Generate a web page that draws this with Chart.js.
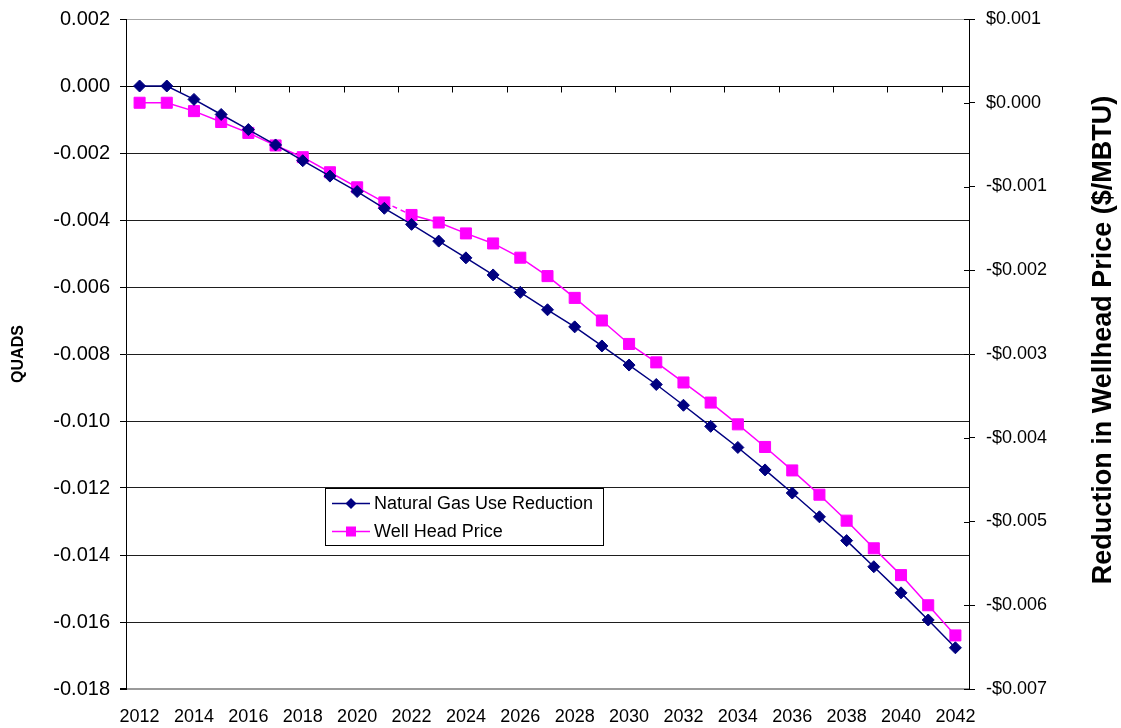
<!DOCTYPE html>
<html>
<head>
<meta charset="utf-8">
<title>Natural Gas Use Reduction and Wellhead Price</title>
<script src="https://cdn.jsdelivr.net/npm/chart.js@4.4.1/dist/chart.umd.min.js"></script>
<style>
  html, body { margin: 0; padding: 0; background: #ffffff; }
  canvas { display: block; }
</style>
</head>
<body>
<canvas id="chart" width="1121" height="728"></canvas>
<script>
// Projection years
const years = [
  '2012','2013','2014','2015','2016','2017','2018','2019','2020','2021',
  '2022','2023','2024','2025','2026','2027','2028','2029','2030','2031',
  '2032','2033','2034','2035','2036','2037','2038','2039','2040','2041','2042'
];

// Natural gas use reduction (quads, left axis)
const gasUseReduction = [
  0.0000, 0.0000, -0.0004, -0.00085, -0.0013, -0.00176, -0.00223, -0.00269, -0.00315, -0.00365,
  -0.00413, -0.00463, -0.00513, -0.00564, -0.00616, -0.00668, -0.00719, -0.00776, -0.00833, -0.00891,
  -0.00953, -0.01016, -0.01079, -0.01146, -0.01215, -0.01286, -0.01357, -0.01435, -0.01513, -0.01594, -0.01677
];

// Reduction in wellhead price ($/MBTU, right axis)
const wellheadPrice = [
  0.0000, 0.0000, -0.0001, -0.00023, -0.00036, -0.00051, -0.00065, -0.00083, -0.00101, -0.00119,
  -0.00134, -0.00143, -0.00156, -0.00168, -0.00185, -0.00207, -0.00233, -0.0026, -0.00288, -0.0031,
  -0.00334, -0.00358, -0.00384, -0.00411, -0.00439, -0.00468, -0.00499, -0.00532, -0.00564, -0.006, -0.00636
];

// Axis ranges: [min, max, step]
const quadsRange = [-0.018, 0.002, 0.002];
const priceRange = [-0.007, 0.001, 0.001];

const seriesNames = ['Natural Gas Use Reduction', 'Well Head Price'];
const leftTitle = 'QUADS';
const rightTitle = 'Reduction in Wellhead Price ($/MBTU)';

const NAVY = '#000080';
const MAGENTA = '#FF00FF';
const FONT = '"Liberation Sans", Arial, Helvetica, sans-serif';

const near = (a, b) => Math.abs(a - b) < 1e-9;

function fmtQuads(v) {
  const s = Math.abs(v) < 1e-12 ? 0 : v;
  return s.toFixed(3);
}
function fmtPrice(v) {
  if (Math.abs(v) < 1e-12) return '$0.000';
  return (v < 0 ? '-$' : '$') + Math.abs(v).toFixed(3);
}

function drawMarker(ctx, style, x, y, r, color) {
  ctx.fillStyle = color;
  ctx.beginPath();
  if (style === 'rectRot') {
    ctx.moveTo(x, y - r); ctx.lineTo(x + r, y); ctx.lineTo(x, y + r); ctx.lineTo(x - r, y);
  } else {
    ctx.rect(x - r, y - r, 2 * r, 2 * r);
  }
  ctx.closePath();
  ctx.fill();
}

// Value axes keep a fixed width and no extra label overhang
function fixAxis(width) {
  return (s) => {
    s.width = width;
    s.paddingTop = 0;
    s.paddingBottom = 0;
  };
}

// Zero-line category axis, inner right-axis ticks, legend box and right title
const decor = {
  id: 'decor',
  beforeDatasetsDraw(chart) {
    const { ctx, chartArea, scales: { x, y, y2 } } = chart;
    const y0 = Math.round(y.getPixelForValue(0)) + 0.5;
    const step = x.getPixelForValue(1) - x.getPixelForValue(0);
    ctx.save();
    ctx.strokeStyle = '#000';
    ctx.lineWidth = 1;
    ctx.beginPath();
    ctx.moveTo(chartArea.left, y0);
    ctx.lineTo(chartArea.right, y0);
    for (let i = 0; i <= years.length; i += 2) {
      const px = Math.round(x.getPixelForValue(0) - step / 2 + i * step) + 0.5;
      ctx.moveTo(px, y0);
      ctx.lineTo(px, y0 + 6);
    }
    for (const t of y2.ticks) {
      const py = Math.round(y2.getPixelForValue(t.value)) + 0.5;
      ctx.moveTo(chartArea.right - 5, py);
      ctx.lineTo(chartArea.right, py);
    }
    ctx.stroke();
    ctx.restore();
  },
  afterDraw(chart) {
    const { ctx } = chart;
    ctx.save();
    // legend
    const bx = 325.5, by = 488.5, bw = 278, bh = 57;
    ctx.fillStyle = '#fff';
    ctx.fillRect(bx, by, bw, bh);
    ctx.strokeStyle = '#000';
    ctx.lineWidth = 1;
    ctx.strokeRect(bx, by, bw, bh);
    ctx.font = '18px ' + FONT;
    ctx.textBaseline = 'middle';
    ctx.textAlign = 'left';
    const rows = [503, 531];
    chart.data.datasets.forEach((ds, i) => {
      const ry = rows[i] + 0.5;
      ctx.strokeStyle = ds.borderColor;
      ctx.lineWidth = 1.5;
      ctx.beginPath();
      ctx.moveTo(332, ry);
      ctx.lineTo(370, ry);
      ctx.stroke();
      drawMarker(ctx, ds.pointStyle, 351, ry, ds.pointStyle === 'rectRot' ? 5.5 : 5, ds.borderColor);
      ctx.fillStyle = '#000';
      ctx.fillText(ds.label, 374, rows[i] + 1);
    });
    // right axis title
    ctx.translate(1104, 340);
    ctx.rotate(-Math.PI / 2);
    ctx.font = 'bold 27px ' + FONT;
    ctx.textAlign = 'center';
    ctx.textBaseline = 'middle';
    ctx.fillStyle = '#000';
    ctx.fillText(rightTitle, 0, 0);
    ctx.restore();
  }
};

new Chart(document.getElementById('chart'), {
  type: 'line',
  data: {
    labels: years,
    datasets: [
      {
        label: seriesNames[0],
        data: gasUseReduction,
        yAxisID: 'y',
        borderColor: NAVY,
        backgroundColor: NAVY,
        borderWidth: 1.5,
        pointStyle: 'rectRot',
        pointRadius: 6,
        pointBorderWidth: 1,
        pointBackgroundColor: NAVY,
        pointBorderColor: NAVY,
        tension: 0,
        fill: false
      },
      {
        label: seriesNames[1],
        data: wellheadPrice,
        yAxisID: 'y2',
        borderColor: MAGENTA,
        backgroundColor: MAGENTA,
        borderWidth: 1.5,
        pointStyle: 'rect',
        pointRadius: 7.8,
        pointBorderWidth: 1,
        pointBackgroundColor: MAGENTA,
        pointBorderColor: MAGENTA,
        tension: 0,
        fill: false,
        segment: {
          borderDash: (c) => (c.p0DataIndex === 9 ? [5, 4] : undefined)
        }
      }
    ]
  },
  options: {
    responsive: false,
    animation: false,
    layout: { padding: { top: 19, left: 0, right: 0, bottom: 0 } },
    plugins: {
      legend: { display: false },
      tooltip: { enabled: false }
    },
    scales: {
      x: {
        type: 'category',
        offset: true,
        position: 'bottom',
        border: { display: false },
        grid: { display: false, drawTicks: false },
        ticks: {
          autoSkip: false,
          maxRotation: 0,
          minRotation: 0,
          padding: 17,
          color: '#000',
          font: { family: FONT, size: 18 },
          callback: (v, i) => (i % 2 === 0 ? years[i] : '')
        },
        afterFit: (s) => { s.height = 39; }
      },
      y: {
        position: 'left',
        min: quadsRange[0],
        max: quadsRange[1],
        border: { display: true, color: '#000', width: 1 },
        grid: {
          drawTicks: true,
          tickLength: 6,
          tickColor: '#000',
          color: (c) => {
            const v = c.tick ? c.tick.value : 0;
            if (near(v, quadsRange[1])) return '#a6a6a6';
            if (near(v, quadsRange[0])) return '#9a9a9a';
            return '#1e1e1e';
          },
          lineWidth: (c) => {
            const v = c.tick ? c.tick.value : 0;
            return near(v, quadsRange[0]) ? 2 : 1;
          }
        },
        ticks: {
          stepSize: quadsRange[2],
          padding: 10,
          color: '#000',
          font: { family: FONT, size: 20 },
          callback: (v) => fmtQuads(v)
        },
        title: {
          display: true,
          text: leftTitle,
          color: '#000',
          font: { family: FONT, size: 16, weight: 'bold' },
          padding: { top: 9, bottom: 0 }
        },
        afterFit: fixAxis(126)
      },
      y2: {
        position: 'right',
        min: priceRange[0],
        max: priceRange[1],
        border: { display: true, color: '#000', width: 1 },
        grid: {
          drawOnChartArea: false,
          drawTicks: true,
          tickLength: 6,
          tickColor: '#000'
        },
        ticks: {
          stepSize: priceRange[2],
          padding: 11,
          color: '#000',
          font: { family: FONT, size: 18 },
          callback: (v) => fmtPrice(v)
        },
        afterFit: fixAxis(152)
      }
    }
  },
  plugins: [decor]
});
</script>
</body>
</html>
